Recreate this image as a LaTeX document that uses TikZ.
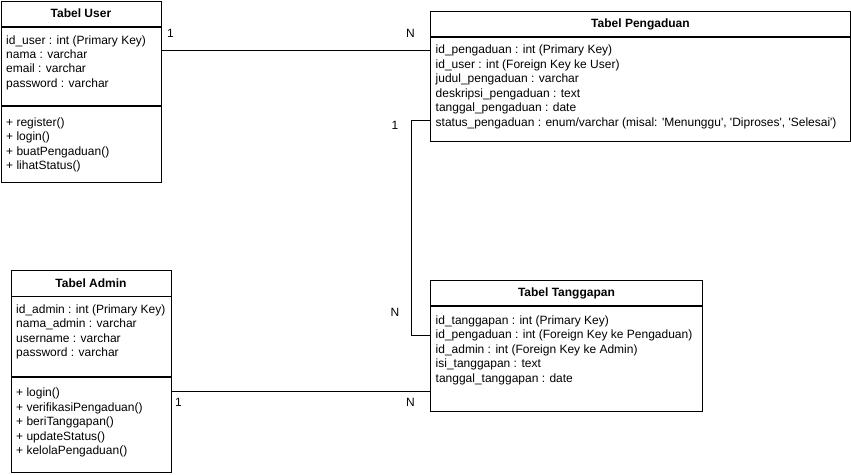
\documentclass[tikz,border=0pt]{standalone}
\usepackage{fontspec}
\setmainfont{Liberation Sans}

\tikzset{
  hdr/.style={draw, line width=0.9pt, font=\fontsize{12}{14.4}\selectfont\bfseries, inner sep=0pt, anchor=north west},
  cmp/.style={draw, line width=0.9pt, inner sep=0pt, anchor=north west},
  attr/.style={inner sep=0pt, anchor=base west},
  card/.style={inner sep=0pt},
  conn/.style={line width=0.9pt}
}

\begin{document}
\begin{tikzpicture}[x=1pt,y=-1pt,font=\fontsize{12}{14.4}\selectfont]
\useasboundingbox (0,0) rectangle (851,474);

% Tabel User
\node[hdr, minimum width=160pt, minimum height=25.5pt] (user) at (0.5,0.5) {Tabel User};
\node[cmp, minimum width=160pt, minimum height=78pt] (userattr) at (user.south west) {};
\node[cmp, minimum width=160pt, minimum height=76pt] (usermeth) at (userattr.south west) {};
\foreach \t [count=\i] in {id\_user : int (Primary Key), nama : varchar, email : varchar, password : varchar} {
\node[attr] (ua\i) at ({6}, {44+14.4*(\i-1)}) {\t};
}
\foreach \t [count=\i] in {+ register(), + login(), + buatPengaduan(), + lihatStatus()} {
\node[attr] (um\i) at ({6}, {126.5+14.4*(\i-1)}) {\t};
}

% Tabel Pengaduan
\node[hdr, minimum width=420pt, minimum height=25pt] (peng) at (430,11) {Tabel Pengaduan};
\node[cmp, minimum width=420pt, minimum height=104pt] (pengbody) at (peng.south west) {};
\foreach \t [count=\i] in {id\_pengaduan : int (Primary Key), id\_user : int (Foreign Key ke User), judul\_pengaduan : varchar, deskripsi\_pengaduan : text, tanggal\_pengaduan : date, {status\_pengaduan : enum/varchar (misal: \textquotesingle Menunggu\textquotesingle, \textquotesingle Diproses\textquotesingle, \textquotesingle Selesai\textquotesingle)}} {
\node[attr] (pa\i) at ({435.5}, {53.5+14.5*(\i-1)}) {\t};
}

% Tabel Admin
\node[hdr, minimum width=160pt, minimum height=25.5pt] (admin) at (10.5,270) {Tabel Admin};
\node[cmp, minimum width=160pt, minimum height=79.5pt] (admattr) at (admin.south west) {};
\node[cmp, minimum width=160pt, minimum height=95pt] (admmeth) at (admattr.south west) {};
\foreach \t [count=\i] in {id\_admin : int (Primary Key), nama\_admin : varchar, username : varchar, password : varchar} {
\node[attr] (aa\i) at ({16}, {313.5+14.4*(\i-1)}) {\t};
}
\foreach \t [count=\i] in {+ login(), + verifikasiPengaduan(), + beriTanggapan(), + updateStatus(), + kelolaPengaduan()} {
\node[attr] (am\i) at ({16}, {396.5+14.5*(\i-1)}) {\t};
}

% Tabel Tanggapan
\node[hdr, minimum width=272pt, minimum height=25pt] (tang) at (430,280) {Tabel Tanggapan};
\node[cmp, minimum width=272pt, minimum height=105pt] (tangbody) at (tang.south west) {};
\foreach \t [count=\i] in {id\_tanggapan : int (Primary Key), id\_pengaduan : int (Foreign Key ke Pengaduan), id\_admin : int (Foreign Key ke Admin), isi\_tanggapan : text, tanggal\_tanggapan : date} {
\node[attr] (ta\i) at ({435.5}, {324.5+14.4*(\i-1)}) {\t};
}

% relasi
\draw[conn] (userattr.east |- pa1.west) -- (pa1.west -| pengbody.west);
\draw[conn] ([yshift=2pt]pa6.west -| pengbody.west) -- ++(-19,0) |- (ta2.west -| tangbody.west);
\draw[conn] ([yshift=-15pt]admmeth.north east) -- ([yshift=-15pt]admmeth.north east -| tangbody.west);

\node[card] (c1) at (170.5,33.5) {1};
\node[card] (c2) at (410.5,33.5) {N};
\node[card] (c3) at (395,125) {1};
\node[card] (c4) at (395,312.5) {N};
\node[card] (c5) at (178.5,402) {1};
\node[card] (c6) at (410.5,402) {N};

\end{tikzpicture}
\end{document}
